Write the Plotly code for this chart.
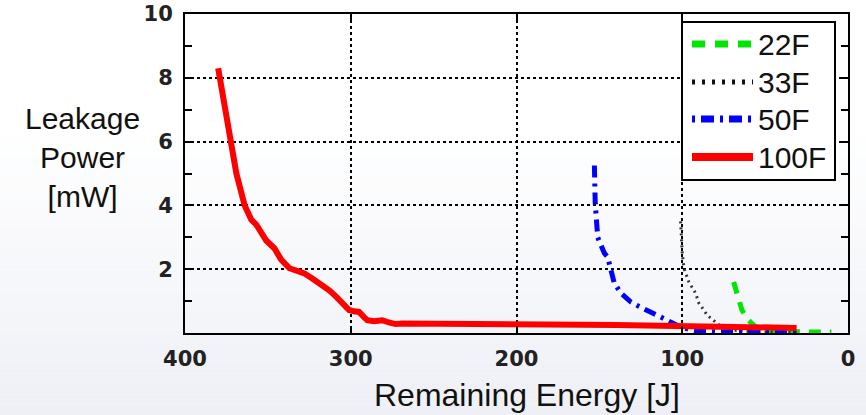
import plotly.graph_objects as go

# ---- data ----
series_names = ["22F", "33F", "50F", "100F"]

x_22F = [69, 67.5, 66, 64, 62, 60, 57, 54, 50, 40, 30, 20, 10]
y_22F = [1.6, 1.35, 1.13, 0.72, 0.55, 0.4, 0.25, 0.15, 0.08, 0.05, 0.04, 0.03, 0.03]

x_33F = [101, 100.5, 100, 99, 96, 92, 90, 87, 85, 80, 76, 70, 60, 50, 40, 30]
y_33F = [3.5, 3.0, 2.5, 2.03, 1.6, 1.25, 0.94, 0.72, 0.56, 0.35, 0.18, 0.09, 0.05, 0.04, 0.03, 0.03]

x_50F = [153, 153, 152.5, 151, 149, 147, 145, 143, 141, 137, 131, 126, 121, 117, 113, 107, 101, 95, 90, 80, 70, 60, 50, 40, 29]
y_50F = [5.25, 4.6, 4.06, 3.0, 2.7, 2.5, 2.38, 2.03, 1.56, 1.25, 0.97, 0.83, 0.72, 0.6, 0.5, 0.35, 0.19, 0.1, 0.06, 0.04, 0.04, 0.03, 0.03, 0.03, 0.03]

x_100F = [380, 379, 376, 373, 369, 364, 360, 357, 355, 351, 346, 342, 337, 332, 328, 323, 319, 313, 309, 305.5, 301, 298, 295, 292, 290, 286, 281, 277, 273, 269, 260, 250, 240, 230, 220, 210, 200, 180, 160, 140, 120, 100, 80, 60, 45, 31]
y_100F = [8.3, 8.0, 7.0, 6.0, 5.0, 4.0, 3.55, 3.4, 3.25, 2.9, 2.65, 2.3, 2.03, 1.95, 1.87, 1.7, 1.56, 1.34, 1.15, 0.94, 0.72, 0.68, 0.66, 0.5, 0.4, 0.37, 0.4, 0.33, 0.28, 0.3, 0.3, 0.3, 0.3, 0.3, 0.29, 0.29, 0.28, 0.27, 0.26, 0.25, 0.24, 0.22, 0.21, 0.19, 0.17, 0.16]

x_ticks = [400, 300, 200, 100, 0]
y_ticks = [2, 4, 6, 8, 10]
y_minor = [1, 3, 5, 7, 9]

x_title = "Remaining Energy [J]"
y_title = "Leakage<br>Power<br>[mW]"

# ---- styles ----
styles = {
    "22F": dict(color="#00e600", width=5, dash="12px,9px"),
    "33F": dict(color="#333333", width=3, dash="2px,4px"),
    "50F": dict(color="#0000ff", width=5, dash="12px,6px,3px,6px"),
    "100F": dict(color="#ff0000", width=6, dash="solid"),
}
legend_styles = {
    "22F": dict(color="#00e600", width=7, dash="13px,10px"),
    "33F": dict(color="#111111", width=5, dash="3px,7px"),
    "50F": dict(color="#0000ff", width=7, dash="3px,6px,13px,6px"),
    "100F": dict(color="#ff0000", width=8, dash="solid"),
}
data = {"22F": (x_22F, y_22F), "33F": (x_33F, y_33F), "50F": (x_50F, y_50F), "100F": (x_100F, y_100F)}

fig = go.Figure()
for name in series_names:
    xs, ys = data[name]
    fig.add_trace(go.Scatter(x=xs, y=ys, mode="lines", name=name,
                             line=dict(**styles[name]), showlegend=False))

W, H = 866, 415
L, R, T, B = 185, 18, 14, 82
pw, ph = W - L - R, H - T - B

def px2paper(px, py):
    return (px - L) / pw, (H - B - py) / ph

shapes = []
# background gradient (white top -> light grey-blue bottom)
nb = 40
for i in range(nb):
    y0 = i / nb
    y1 = (i + 1) / nb
    f = 1 - (y0 + y1) / 2
    t = max(0.0, min(1.0, (f - 0.3) / 0.7))
    r = int(round(255 - t * (255 - 238)))
    g = int(round(255 - t * (255 - 240)))
    b = int(round(255 - t * (255 - 246)))
    shapes.append(dict(type="rect", xref="paper", yref="paper",
                       x0=-L / pw, x1=(W - L) / pw,
                       y0=-B / ph + y0 * H / ph, y1=-B / ph + y1 * H / ph,
                       fillcolor=f"rgb({r},{g},{b})", line=dict(width=0), layer="below"))

# legend box
bx0, by0 = px2paper(682, 180)
bx1, by1 = px2paper(835, 22)
shapes.append(dict(type="rect", xref="paper", yref="paper", x0=bx0, x1=bx1, y0=by0, y1=by1,
                   fillcolor="white", line=dict(color="black", width=2), layer="above"))
annotations = []
rows_py = [44, 82, 119, 157]
for name, py in zip(series_names, rows_py):
    lx0, ly = px2paper(692, py)
    lx1, _ = px2paper(753, py)
    st = legend_styles[name]
    shapes.append(dict(type="line", xref="paper", yref="paper", x0=lx0, x1=lx1, y0=ly, y1=ly,
                       line=dict(color=st["color"], width=st["width"], dash=st["dash"]), layer="above"))
    tx, _ = px2paper(756, py)
    annotations.append(dict(x=tx, y=ly, xref="paper", yref="paper", text=name, showarrow=False,
                            xanchor="left", yanchor="middle",
                            font=dict(family="Liberation Sans, Arial", size=30, color="#111111")))

# axis titles
ax, ay = px2paper(527, 395)
annotations.append(dict(x=ax, y=ay, xref="paper", yref="paper", text=x_title, showarrow=False,
                        xanchor="center", yanchor="middle",
                        font=dict(family="Liberation Sans, Arial", size=32, color="#111111")))
yx, yy = px2paper(82, 157)
annotations.append(dict(x=yx, y=yy, xref="paper", yref="paper", text=y_title, showarrow=False,
                        xanchor="center", yanchor="middle", align="center",
                        font=dict(family="Liberation Sans, Arial", size=30, color="#111111")))

tickfont = dict(family="DejaVu Sans", size=21, color="#222222", weight="bold")

fig.update_layout(
    width=W, height=H,
    margin=dict(l=L, r=R, t=T, b=B, pad=0, autoexpand=False),
    paper_bgcolor="white",
    plot_bgcolor="rgba(0,0,0,0)",
    shapes=shapes,
    annotations=annotations,
    showlegend=False,
)
fig.update_xaxes(
    range=[400, 0], tickmode="array", tickvals=x_ticks, ticktext=[str(v) for v in x_ticks],
    showline=True, linecolor="black", linewidth=2, mirror="ticks",
    ticks="inside", ticklen=7, tickwidth=2, tickcolor="black",
    showgrid=True, gridcolor="black", gridwidth=1.5, griddash="dot",
    zeroline=False, tickfont=tickfont, ticklabelstandoff=6, automargin=False,
)
fig.update_yaxes(
    range=[0, 10], tickmode="array", tickvals=y_ticks, ticktext=[str(v) for v in y_ticks],
    showline=True, linecolor="black", linewidth=2, mirror="ticks",
    ticks="inside", ticklen=7, tickwidth=2, tickcolor="black",
    minor=dict(tickmode="array", tickvals=y_minor, ticks="inside", ticklen=7, tickwidth=2,
               tickcolor="black", showgrid=False),
    showgrid=True, gridcolor="black", gridwidth=1.5, griddash="dot",
    zeroline=False, tickfont=tickfont, ticklabelstandoff=6, automargin=False,
)

fig.write_html("out.html")
